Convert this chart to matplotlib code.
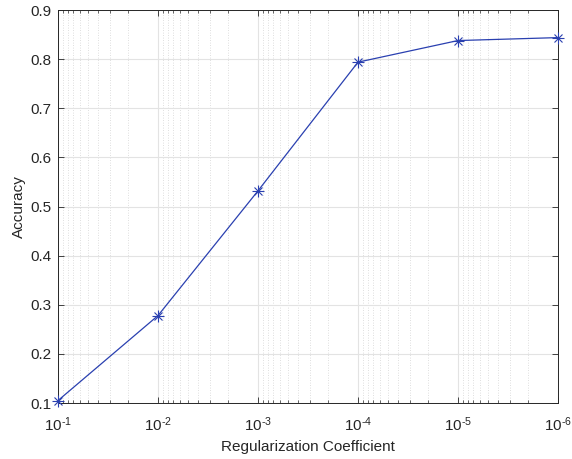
import matplotlib
matplotlib.use("Agg")
import matplotlib.pyplot as plt
from matplotlib.ticker import LogLocator, FixedLocator

plt.rcParams['font.family'] = ['Liberation Sans', 'DejaVu Sans']
plt.rcParams['mathtext.fontset'] = 'custom'
plt.rcParams['mathtext.rm'] = 'Liberation Sans'
plt.rcParams['mathtext.it'] = 'Liberation Sans'

reg_coeff = [1e-1, 1e-2, 1e-3, 1e-4, 1e-5, 1e-6]
accuracy = [0.105, 0.278, 0.532, 0.794, 0.838, 0.844]
x_labels = ['10$^{\\text{-1}}$', '10$^{\\text{-2}}$', '10$^{\\text{-3}}$',
            '10$^{\\text{-4}}$', '10$^{\\text{-5}}$', '10$^{\\text{-6}}$']

fig = plt.figure(figsize=(5.72, 4.59), dpi=100)
ax = fig.add_axes([0.1014, 0.122, 0.8741, 0.856])

line_color = '#2a40b0'
ax.plot(reg_coeff, accuracy, color=line_color, linewidth=0.9, zorder=3)
ax.plot(reg_coeff, accuracy, linestyle='none', marker='+', color=line_color,
        markersize=8, markeredgewidth=0.8, zorder=4, clip_on=False)
ax.plot(reg_coeff, accuracy, linestyle='none', marker='x', color=line_color,
        markersize=6, markeredgewidth=0.8, zorder=4, clip_on=False)

ax.set_xscale('log')
ax.set_xlim(1e-1, 1e-6)
ax.set_ylim(0.1, 0.9)
ax.set_yticks([0.1, 0.2, 0.3, 0.4, 0.5, 0.6, 0.7, 0.8, 0.9])
ax.xaxis.set_major_locator(FixedLocator(reg_coeff))
ax.set_xticklabels(x_labels)
ax.xaxis.set_minor_locator(LogLocator(base=10, subs=range(2, 10), numticks=20))

ax.grid(True, which='major', color='#e3e3e3', linewidth=0.8, linestyle='-')
ax.grid(True, which='minor', axis='x', color='#d4d4d4', linewidth=0.6, linestyle=(0, (1, 2)))
ax.set_axisbelow(True)

ax.tick_params(which='both', direction='in', top=True, right=True,
               labelsize=11, colors='#262626')
ax.tick_params(axis='x', which='major', pad=9)
ax.tick_params(axis='y', which='major', pad=5)
ax.tick_params(which='major', length=4, width=0.6)
ax.tick_params(which='minor', length=2.5, width=0.5)
for s in ax.spines.values():
    s.set_color('#262626')
    s.set_linewidth(0.7)

ax.set_xlabel('Regularization Coefficient', fontsize=11, color='#262626', labelpad=4)
ax.set_ylabel('Accuracy', fontsize=11, color='#262626', labelpad=3)

fig.savefig('out.png', dpi=100)
